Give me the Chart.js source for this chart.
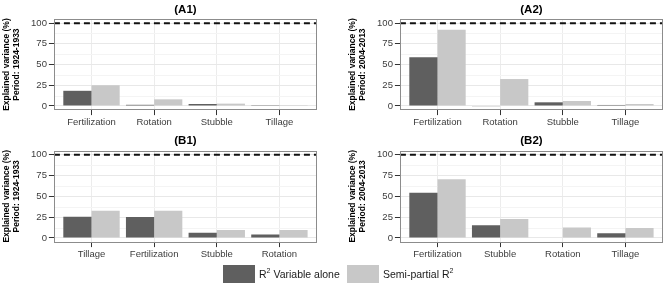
<!DOCTYPE html>
<html>
<head>
<meta charset="utf-8">
<script src="https://cdn.jsdelivr.net/npm/chart.js@4"></script>
<style>
    html, body { margin: 0; padding: 0; background: #fff; }
    body { width: 666px; height: 286px; position: relative; overflow: hidden; font-family: 'Liberation Sans', Arial, sans-serif; }
    .panel { position: absolute; width: 333px; height: 133px; }
    .legend { position: absolute; top: 265px; left: 0; width: 666px; height: 20px; }
    .legend .box { position: absolute; top: 0; width: 32px; height: 18px; }
    .legend .txt { position: absolute; top: 2px; font-size: 10.5px; color: #1a1a1a; line-height: 14px; white-space: nowrap; }
    .legend sup { font-size: 7px; vertical-align: 5px; line-height: 0; }
</style>
</head>
<body>
<div class="panel" style="left:0;top:0"><canvas id="chart-a1"></canvas></div>
<div class="panel" style="left:333px;top:0"><canvas id="chart-a2"></canvas></div>
<div class="panel" style="left:0;top:133px"><canvas id="chart-b1"></canvas></div>
<div class="panel" style="left:333px;top:133px"><canvas id="chart-b2"></canvas></div>
<div class="legend">
    <div class="box" style="left:223px;background:#5f5f5f"></div>
    <div class="txt" style="left:259px">R<sup>2</sup> Variable alone</div>
    <div class="box" style="left:347px;background:#c8c8c8"></div>
    <div class="txt" style="left:383px">Semi-partial R<sup>2</sup></div>
</div>
<script>
// values (% explained variance)
const a1Labels = ['Fertilization', 'Rotation', 'Stubble', 'Tillage'];
const a1Alone = [18.3, 1.4, 2.4, 1.0];
const a1Semi = [25, 8, 2.8, 1.0];

const a2Labels = ['Fertilization', 'Rotation', 'Stubble', 'Tillage'];
const a2Alone = [58.7, -0.4, 4.4, 1.2];
const a2Semi = [92, 32.5, 6, 2.4];

const b1Labels = ['Tillage', 'Fertilization', 'Stubble', 'Rotation'];
const b1Alone = [25.5, 25, 6.3, 4];
const b1Semi = [32.5, 32.5, 9.5, 9.5];

const b2Labels = ['Fertilization', 'Stubble', 'Rotation', 'Tillage'];
const b2Alone = [54.2, 15.1, 0, 5.6];
const b2Semi = [70.5, 22.7, 12.4, 12];

const yTicks = [0, 25, 50, 75, 100];
const yMinor = [12.5, 37.5, 62.5, 87.5];
const refLine = 100;

const DARK = '#5f5f5f';
const LIGHT = '#c8c8c8';

Chart.defaults.font.family = "'Liberation Sans', Arial, sans-serif";

// minor grid, dashed 100% line and the grey panel frame
const panelDecor = {
    id: 'panelDecor',
    beforeDatasetsDraw(chart) {
        const { ctx, chartArea: a, scales: { y } } = chart;
        ctx.save();
        ctx.strokeStyle = '#f4f4f4';
        ctx.lineWidth = 1;
        yMinor.forEach(v => {
            const py = Math.round(y.getPixelForValue(v)) + 0.5;
            ctx.beginPath();
            ctx.moveTo(a.left, py);
            ctx.lineTo(a.right, py);
            ctx.stroke();
        });
        ctx.restore();
    },
    afterDatasetsDraw(chart) {
        const { ctx, chartArea: a, scales: { y } } = chart;
        ctx.save();
        const py = y.getPixelForValue(refLine);
        ctx.strokeStyle = '#111';
        ctx.lineWidth = 2;
        ctx.setLineDash([6, 4]);
        ctx.beginPath();
        ctx.moveTo(a.left, py);
        ctx.lineTo(a.right, py);
        ctx.stroke();
        ctx.setLineDash([]);
        ctx.strokeStyle = '#8c8c8c';
        ctx.lineWidth = 1;
        ctx.strokeRect(Math.round(a.left) + 0.5, Math.round(a.top) + 0.5,
            Math.round(a.right - a.left) - 1, Math.round(a.bottom - a.top) - 1);
        ctx.restore();
    }
};

function makePanel(canvasId, title, period, labels, alone, semi, padLeft, padRight, padTop, padBottom) {
    const ctx = document.getElementById(canvasId).getContext('2d');
    return new Chart(ctx, {
        type: 'bar',
        data: {
            labels: labels,
            datasets: [
                { label: 'R² Variable alone', data: alone, backgroundColor: DARK, borderWidth: 0 },
                { label: 'Semi-partial R²', data: semi, backgroundColor: LIGHT, borderWidth: 0 }
            ]
        },
        options: {
            responsive: true,
            maintainAspectRatio: false,
            animation: false,
            events: [],
            layout: { padding: { left: padLeft, right: padRight, top: padTop, bottom: padBottom } },
            categoryPercentage: 0.9,
            barPercentage: 1,
            plugins: {
                legend: { display: false },
                tooltip: { enabled: false },
                title: {
                    display: true,
                    text: title,
                    fullSize: false,
                    color: '#000',
                    font: { size: 11.5, weight: 'bold' },
                    padding: { top: 1, bottom: 2.7 }
                }
            },
            scales: {
                x: {
                    offset: true,
                    // ggplot style discrete expansion (0.6 of a category each side)
                    afterBuildTicks: scale => {
                        scale._startValue = scale.min - 0.6;
                        scale._valueRange = scale.max - scale.min + 1.2;
                    },
                    grid: { offset: false, color: '#ececec', tickColor: '#333', tickLength: 5 },
                    border: { display: false },
                    ticks: { color: '#3c3c3c', font: { size: 9.5 }, padding: 2, maxRotation: 0 }
                },
                y: {
                    min: -5,
                    max: 105,
                    afterBuildTicks: scale => {
                        scale.ticks = yTicks.map(v => ({ value: v }));
                    },
                    grid: { color: '#e8e8e8', tickColor: '#333', tickLength: 5 },
                    border: { display: false },
                    ticks: { color: '#3c3c3c', font: { size: 9.5 }, padding: 2 },
                    title: {
                        display: true,
                        text: ['Explained variance (%)', 'Period: ' + period],
                        color: '#000',
                        font: { size: 8.5, weight: 'bold', lineHeight: 1.18 },
                        padding: { top: 2, bottom: 7 }
                    }
                }
            }
        },
        plugins: [panelDecor]
    });
}

makePanel('chart-a1', '(A1)', '1924-1933', a1Labels, a1Alone, a1Semi, 0, 16, 1.5, 2.5);
makePanel('chart-a2', '(A2)', '2004-2013', a2Labels, a2Alone, a2Semi, 13, 3, 1.5, 2.5);
makePanel('chart-b1', '(B1)', '1924-1933', b1Labels, b1Alone, b1Semi, 0, 16, 0, 3.5);
makePanel('chart-b2', '(B2)', '2004-2013', b2Labels, b2Alone, b2Semi, 13, 3, 0, 3.5);
</script>
</body>
</html>
